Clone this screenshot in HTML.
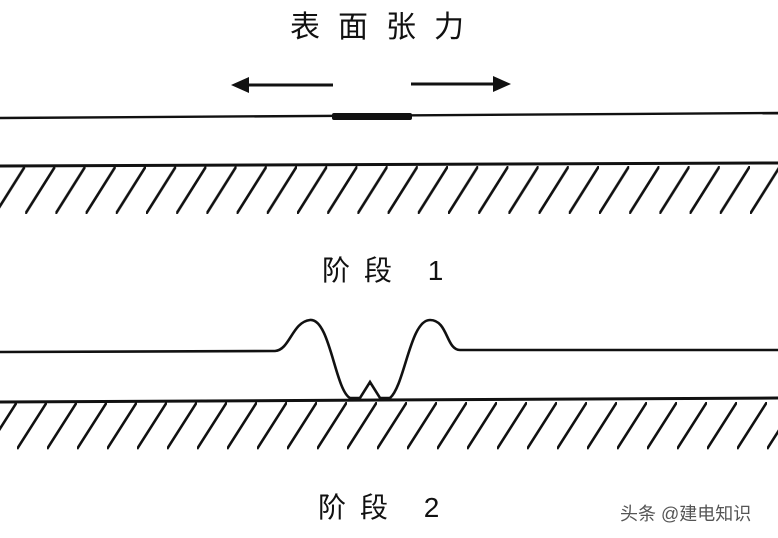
<!DOCTYPE html>
<html><head><meta charset="utf-8"><style>
body{margin:0;background:#fff;}
svg{display:block}
text{font-family:"Liberation Sans","Noto Sans CJK SC",sans-serif;fill:#111}
</style></head><body>
<svg width="778" height="538" viewBox="0 0 778 538" xmlns="http://www.w3.org/2000/svg">
<defs>
<pattern id="h1" patternUnits="userSpaceOnUse" width="30.2" height="50" x="-5" y="166">
<line x1="0" y1="48" x2="30.2" y2="0" stroke="#111" stroke-width="2.6"/>
</pattern>
<pattern id="h2" patternUnits="userSpaceOnUse" width="30" height="48" x="17" y="402">
<line x1="0" y1="47" x2="30" y2="0" stroke="#111" stroke-width="2.6"/>
</pattern>
</defs>
<text x="290" y="37" font-size="30" letter-spacing="18">表面张力</text>
<!-- arrows -->
<line x1="245" y1="85" x2="333" y2="85" stroke="#111" stroke-width="3"/>
<polygon points="231,85 249,77 249,93" fill="#111"/>
<line x1="411" y1="84" x2="497" y2="84" stroke="#111" stroke-width="3"/>
<polygon points="511,84 493,76 493,92" fill="#111"/>
<!-- film -->
<path d="M0 118 L778 113" stroke="#111" stroke-width="2.4" fill="none"/>
<rect x="332" y="113" width="80" height="7" rx="2" fill="#111"/>
<!-- substrate 1 -->
<rect x="0" y="166" width="778" height="48" fill="url(#h1)"/>
<path d="M0 166 L778 163" stroke="#111" stroke-width="3" fill="none"/>
<text x="322" y="280" font-size="28" letter-spacing="14">阶段 1</text>
<!-- stage 2 -->
<rect x="0" y="402" width="778" height="48" fill="url(#h2)"/>
<path d="M0 402 L778 398" stroke="#111" stroke-width="3" fill="none"/>
<path d="M0 352 L275 351 C290 350 292 322 310 320 C330 318 335 390 350 398 L360 398 L370 382 L380 398 L390 398 C405 385 410 320 430 320 C448 320 446 350 460 350 L778 350" stroke="#111" stroke-width="2.6" fill="none"/>
<text x="318" y="517" font-size="28" letter-spacing="14">阶段 2</text>
<text x="620" y="520" font-size="18" style="fill:#555">头条 @建电知识</text>
</svg>
</body></html>
